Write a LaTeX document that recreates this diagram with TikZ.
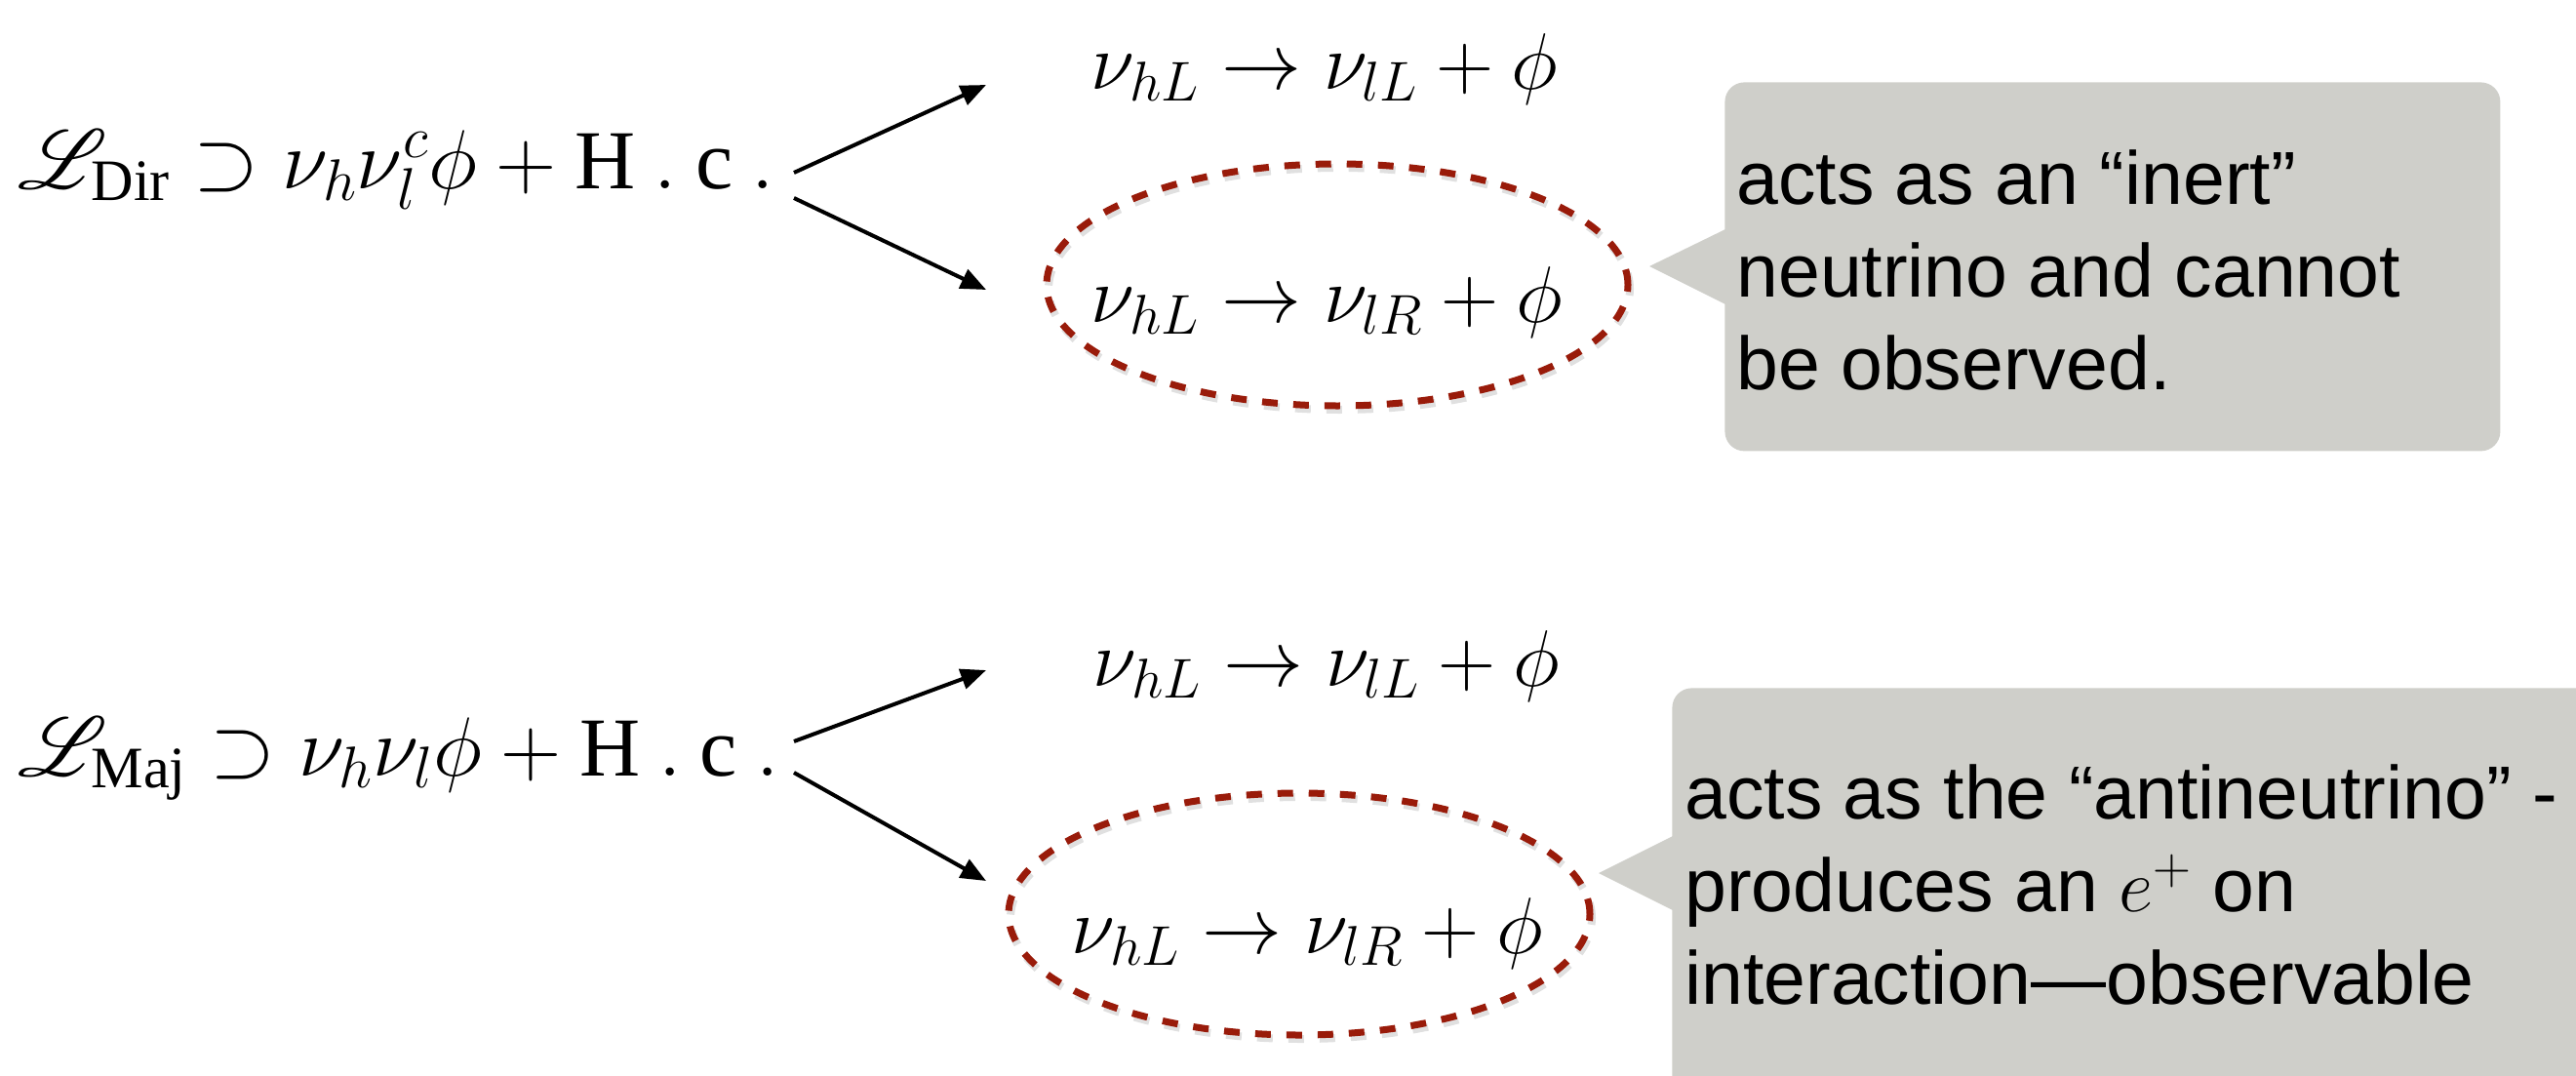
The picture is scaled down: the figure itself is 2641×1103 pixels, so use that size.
\RequirePackage{fix-cm}
\documentclass[tikz,border=0pt]{standalone}
\usepackage{amsmath}
\usepackage{mathrsfs}
\DeclareFontFamily{U}{rsfs}{\skewchar\font127 }
\DeclareFontShape{U}{rsfs}{m}{n}{<-> rsfs10}{}
\usepackage{fontspec}
\setmainfont{Liberation Serif}
\newfontfamily\callfont{Liberation Sans}
\usetikzlibrary{arrows.meta,shapes.geometric}
\definecolor{callgray}{RGB}{207,207,202}
\definecolor{ellred}{RGB}{153,27,10}
\begin{document}
\begin{tikzpicture}[x=0.5pt,y=-0.5pt,
  eq/.style={inner sep=0pt, anchor=base west, font=\fontsize{41}{49}\selectfont},
  lag/.style={inner sep=0pt, anchor=base west, font=\fontsize{43}{51}\selectfont},
  arr/.style={line width=2pt, -{Triangle[length=13pt,width=10.5pt]}},
  ell/.style={ellipse, draw=ellred, line width=3.5pt, dash pattern=on 8pt off 8pt, inner sep=0pt, minimum width=298pt, minimum height=124pt},
  ellshadow/.style={ellipse, draw=black, draw opacity=0.12, line width=4pt, dash pattern=on 8pt off 8pt, inner sep=0pt, minimum width=298pt, minimum height=124pt},
  callbox/.style={fill=callgray, rounded corners=10pt, inner sep=0pt, anchor=north west},
  calltext/.style={inner sep=0pt, anchor=north west, align=left, font=\callfont\fontsize{38.5}{47.5}\selectfont}]
\useasboundingbox (0,0) rectangle (2641,1103);
\clip (0,0) rectangle (2641,1103);

% ---------- top (Dirac) ----------
\node[lag] (dir) at (18,193) {$\mathscr{L}_{\mathrm{Dir}}\supset\nu_h\nu_l^c\phi+\mathrm{H}\:.\:\mathrm{c}\:.$};
\node[eq] (d1) at (1118,91) {$\nu_{hL}\to\nu_{lL}+\phi$};
\node[ellshadow] at ([xshift=1pt,yshift=-2pt]1371,292) {};
\node[ell] (de) at (1371,292) {};
\node[eq] (d2) at (1118,330) {$\nu_{hL}\to\nu_{lR}+\phi$};
\coordinate (ds1) at (814,177);
\coordinate (dt1) at (1011,87);
\coordinate (ds2) at (814,203);
\coordinate (dt2) at (1011,297);
\draw[arr] (ds1) -- (dt1);
\draw[arr] (ds2) -- (dt2);

\node[callbox, minimum width=397.5pt, minimum height=189pt] (box1) at (1768,84) {};
\coordinate (p1) at (1691,273);
\fill[callgray] (1769,235) -- (p1) -- (1769,312) -- cycle;
\node[calltext] (t1) at (1780,153) {acts as an “inert”\\neutrino and cannot\\be observed.};

% ---------- bottom (Majorana) ----------
\node[lag] (maj) at (18,795) {$\mathscr{L}_{\mathrm{Maj}}\supset\nu_h\nu_l\phi+\mathrm{H}\:.\:\mathrm{c}\:.$};
\node[eq] (m1) at (1120,703) {$\nu_{hL}\to\nu_{lL}+\phi$};
\node[ellshadow] at ([xshift=1pt,yshift=-2pt]1332,937) {};
\node[ell] (me) at (1332,937) {};
\node[eq] (m2) at (1098,977) {$\nu_{hL}\to\nu_{lR}+\phi$};
\coordinate (ms1) at (814,760);
\coordinate (mt1) at (1011,687);
\coordinate (ms2) at (814,792);
\coordinate (mt2) at (1011,903);
\draw[arr] (ms1) -- (mt1);
\draw[arr] (ms2) -- (mt2);

\node[callbox, minimum width=500pt, minimum height=240pt] (box2) at (1714,705) {};
\coordinate (p2) at (1639,895);
\fill[callgray] (1715,857) -- (p2) -- (1715,933) -- cycle;
\node[calltext] (t2) at (1727,783) {acts as the “antineutrino” -\\produces an $e^{+}$ on\\interaction—observable};
\end{tikzpicture}
\end{document}
